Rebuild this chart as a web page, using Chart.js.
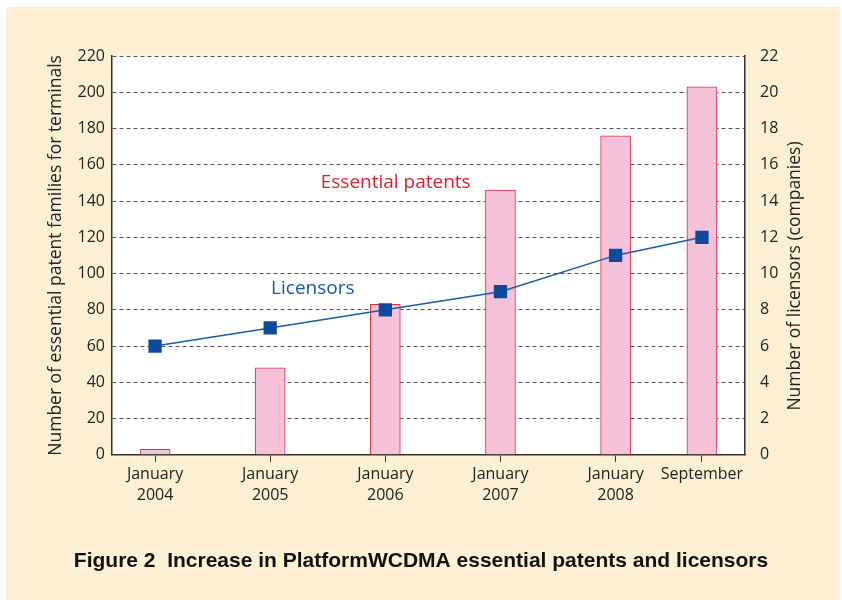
<!DOCTYPE html>
<html>
<head>
<meta charset="utf-8">
<script src="https://cdn.jsdelivr.net/npm/chart.js@4"></script>
<style>
  html, body { margin: 0; padding: 0; background: #fff; }
  #wrap { width: 842px; height: 600px; position: relative; }
</style>
</head>
<body>
<div id="wrap"><canvas id="patents-chart" width="842" height="600"></canvas></div>
<script>
// positions on the x axis in years (September 2008 = 2008.75)
const periods = [2004, 2005, 2006, 2007, 2008, 2008.75];
const periodLabels = [
  ["January", "2004"], ["January", "2005"], ["January", "2006"],
  ["January", "2007"], ["January", "2008"], ["September"]
];
const essentialPatents = [3, 48, 83, 146, 176, 203];
const licensors = [6, 7, 8, 9, 11, 12];

const cream = "#fdefd3";
const ink = "#222";

// cream page, white plot area, right axis title and the two series labels
const decor = {
  id: "decor",
  beforeDraw(chart) {
    const {ctx, chartArea: a} = chart;
    ctx.save();
    ctx.fillStyle = cream;
    ctx.fillRect(6, 7, chart.width - 8, chart.height - 7);
    ctx.fillStyle = "#fff";
    ctx.fillRect(a.left, a.top, a.right - a.left, a.bottom - a.top);
    ctx.restore();
  },
  afterDraw(chart) {
    const {ctx, scales} = chart;
    ctx.save();
    // right axis title, reading bottom to top
    ctx.translate(795, 276);
    ctx.rotate(-Math.PI / 2);
    ctx.font = "17.5px 'Open Sans'";
    ctx.fillStyle = ink;
    ctx.textAlign = "center";
    ctx.textBaseline = "middle";
    ctx.fillText("Number of licensors (companies)", 0, 0);
    ctx.restore();

    ctx.save();
    ctx.font = "19px 'Open Sans'";
    ctx.textAlign = "center";
    ctx.textBaseline = "middle";
    ctx.fillStyle = "#d8232f";
    ctx.fillText("Essential patents", scales.x.getPixelForValue(2006.09), scales.y.getPixelForValue(150));
    ctx.fillStyle = "#1c56a6";
    ctx.fillText("Licensors", scales.x.getPixelForValue(2005.37), scales.y.getPixelForValue(91.5));
    ctx.restore();
  }
};

const ctx = document.getElementById("patents-chart").getContext("2d");
new Chart(ctx, {
  type: "bar",
  data: {
    datasets: [
      {
        type: "line",
        label: "Licensors",
        data: periods.map((p, i) => ({x: p, y: licensors[i]})),
        yAxisID: "y2",
        borderColor: "#1f5aa6",
        borderWidth: 1.5,
        pointStyle: "rect",
        pointRadius: 9.4,
        pointBackgroundColor: "#0d4a9c",
        pointBorderColor: "#0d4a9c",
        pointBorderWidth: 0,
        tension: 0,
        order: 0
      },
      {
        label: "Essential patents",
        data: periods.map((p, i) => ({x: p, y: essentialPatents[i]})),
        yAxisID: "y",
        backgroundColor: "#f5c2da",
        borderColor: "#e03040",
        borderWidth: 1,
        barThickness: 30,
        order: 1
      }
    ]
  },
  options: {
    responsive: false,
    animation: false,
    layout: {padding: {top: 56, left: 0, right: 0, bottom: 0}},
    plugins: {
      legend: {display: false},
      tooltip: {enabled: false},
      title: {
        display: true,
        position: "bottom",
        text: "Figure 2  Increase in PlatformWCDMA essential patents and licensors",
        color: "#111",
        font: {family: "'Liberation Sans', Arial", size: 21, weight: "bold"},
        padding: {top: 24, bottom: 26}
      }
    },
    scales: {
      x: {
        type: "linear",
        min: 2004 - 43 / 115,
        max: 2008.75 + 43 / 115,
        offset: false,
        afterBuildTicks: s => { s.ticks = periods.map(v => ({value: v})); },
        afterFit: s => { s.height = 70; },
        grid: {drawOnChartArea: false, offset: false, tickLength: 7, color: "#333"},
        border: {color: "#333", width: 1.5},
        ticks: {
          color: ink,
          padding: 2,
          maxRotation: 0,
          autoSkip: false,
          font: {family: "'Open Sans'", size: 16, lineHeight: 1.3},
          callback: v => periodLabels[periods.indexOf(v)]
        }
      },
      y: {
        position: "left",
        min: 0,
        max: 220,
        afterFit: s => { s.width = 112; },
        grid: {color: "#555", drawTicks: false},
        border: {color: "#333", width: 1.5, dash: [4, 3]},
        ticks: {stepSize: 20, color: ink, padding: 7, font: {family: "'Open Sans'", size: 16}},
        title: {
          display: true,
          text: "Number of essential patent families for terminals",
          color: ink,
          font: {family: "'Open Sans'", size: 17.5},
          padding: {top: 46, bottom: 0}
        }
      },
      y2: {
        position: "right",
        min: 0,
        max: 22,
        afterFit: s => { s.width = 97; },
        grid: {display: false},
        border: {color: "#333", width: 1.5},
        ticks: {stepSize: 2, color: ink, padding: 7, font: {family: "'Open Sans'", size: 16}}
      }
    }
  },
  plugins: [decor]
});
</script>
</body>
</html>
